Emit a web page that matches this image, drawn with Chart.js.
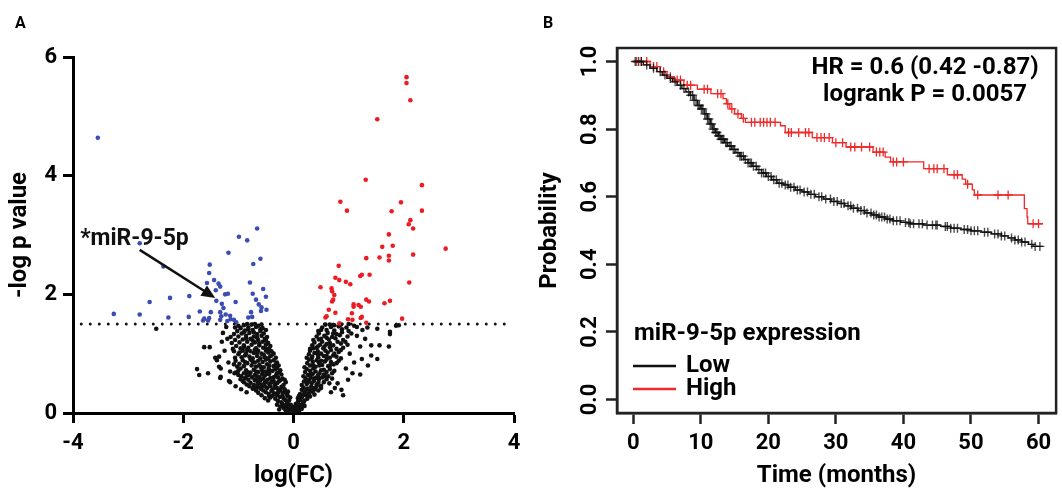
<!DOCTYPE html>
<html>
<head>
<meta charset="utf-8">
<script src="https://cdn.jsdelivr.net/npm/chart.js@4.4.1/dist/chart.umd.min.js"></script>
<style>
  html, body { margin: 0; padding: 0; background: #fff; }
  #wrap { position: relative; width: 1062px; height: 490px; font-family: Roboto, sans-serif; }
  canvas { position: absolute; top: 0; }
  #volcano { left: 0; }
  #survival { left: 530px; }
  .panel { position: absolute; font-weight: bold; font-size: 16px; line-height: 1; }
</style>
</head>
<body>
<div id="wrap">
  <canvas id="volcano" width="530" height="490"></canvas>
  <canvas id="survival" width="532" height="490"></canvas>
  <div class="panel" style="left:15px; top:15px;">A</div>
  <div class="panel" style="left:543px; top:15px;">B</div>
</div>
<script>
// ---- panel A: volcano plot, [log(FC), -log p] ----
const upRegulated = [
  [2.05,5.66],[2.05,5.56],[2.12,5.27],[1.52,4.95],[1.31,3.93],[2.33,3.84],[0.85,3.56],[0.97,3.41],
  [1.95,3.55],[1.78,3.40],[2.33,3.41],[2.12,3.25],[2.09,3.18],[2.17,3.11],[1.73,3.01],[1.61,2.80],
  [1.80,2.82],[2.76,2.77],[1.32,2.61],[1.56,2.62],[1.73,2.65],[1.73,2.57],[2.17,2.67],[0.82,2.48],
  [0.76,2.28],[0.83,2.24],[0.95,2.21],[1.03,2.17],[1.21,2.31],[1.24,2.33],[1.38,2.33],[2.10,2.20],
  [0.49,2.12],[0.69,2.10],[0.70,2.05],[0.74,1.99],[0.72,1.91],[0.70,1.88],[1.09,1.83],[1.09,1.79],
  [1.32,1.91],[1.37,1.88],[1.18,1.82],[1.22,1.79],[1.65,1.85],[1.75,1.89],[0.64,1.74],[0.76,1.69],
  [1.06,1.68],[0.58,1.61],[0.60,1.63],[0.83,1.51],[0.99,1.58],[1.07,1.57],[1.22,1.60],[1.24,1.62],
  [1.32,1.52],[1.97,1.59]
];
const downRegulated = [
  [-3.55,4.64],[-0.99,2.97],[-0.84,2.91],[-0.66,3.11],[-2.79,2.86],[-1.18,2.70],[-0.60,2.60],[-0.73,2.51],
  [-1.52,2.50],[-2.36,2.47],[-1.53,2.36],[-1.44,2.24],[-1.57,2.19],[-1.36,2.18],[-0.79,2.20],[-1.33,2.13],
  [-1.41,2.07],[-0.55,2.09],[-1.24,2.00],[-1.19,2.01],[-0.74,2.01],[-0.68,1.91],[-0.50,1.96],[-2.24,1.94],
  [-1.89,1.97],[-2.61,1.87],[-1.40,1.89],[-1.05,1.87],[-1.30,1.84],[-0.63,1.83],[-1.27,1.77],[-0.58,1.78],
  [-0.59,1.72],[-0.49,1.74],[-0.77,1.70],[-3.26,1.67],[-2.79,1.66],[-1.70,1.71],[-1.50,1.70],[-2.27,1.61],
  [-1.90,1.62],[-1.62,1.59],[-1.64,1.56],[-1.53,1.60],[-1.55,1.56],[-1.33,1.70],[-1.31,1.63],[-1.33,1.57],
  [-1.23,1.66],[-1.15,1.64],[-1.14,1.58],[-1.08,1.57],[-1.04,1.53],[-0.82,1.61],[-0.75,1.62],[-1.20,1.55]
];
const notSignificant = [
  [-0.02,0.01],[0.01,0.02],[-0.04,0.03],[0.03,0.04],[-0.06,0.05],[0.05,0.06],[-0.08,0.04],[0.07,0.03],
  [-0.10,0.08],[0.09,0.09],[-0.03,0.07],[0.02,0.08],[-0.12,0.11],[0.11,0.12],[-0.07,0.10],[0.06,0.11],
  [-0.15,0.13],[0.13,0.14],[-0.18,0.09],[0.15,0.07],[-0.05,0.14],[0.04,0.15],[-0.20,0.15],[0.17,0.16],
  [-0.14,0.04],[-0.09,0.02],[-0.16,0.07],[-0.24,0.11],[-0.30,0.14],[-0.11,0.16],[-0.26,0.06],[0.10,0.04],
  [0.14,0.10],[0.08,0.15],[0.20,0.12],[-0.01,0.05],[0.00,0.10],
  [-0.22,0.18],[-0.28,0.20],[-0.12,0.19],[-0.08,0.21],[-0.33,0.24],[-0.18,0.25],[-0.25,0.27],[-0.10,0.28],
  [-0.38,0.29],[-0.15,0.22],[-0.42,0.26],[-0.30,0.30],[-0.06,0.26],[0.08,0.19],[0.12,0.22],[0.20,0.21],
  [0.15,0.26],[0.25,0.24],[0.10,0.29],[0.30,0.28],[0.22,0.30],[0.18,0.18],
  [-0.46,0.21],[-0.52,0.25],[-0.58,0.30],[-0.64,0.34],[-0.68,0.38],[-0.74,0.41],[-0.44,0.28],[-0.20,0.29],
  [-0.14,0.35],[-0.24,0.39],[-0.42,0.45],[-0.30,0.42],[-0.58,0.44],[-0.80,0.45],[0.30,0.38],[0.36,0.42],
  [0.42,0.45],[0.50,0.42],[0.26,0.29],[0.16,0.30],[0.08,0.25],
  [-0.45,0.32],[-0.50,0.35],[-0.35,0.33],[-0.20,0.34],[-0.12,0.31],[-0.55,0.38],[-0.40,0.37],[-0.27,0.38],
  [-0.16,0.40],[-0.60,0.41],[-0.48,0.42],[-0.33,0.43],[-0.22,0.44],[-0.10,0.36],[-0.65,0.44],[-0.38,0.40],
  [-0.28,0.34],[-0.52,0.45],[-0.70,0.43],
  [0.12,0.32],[0.20,0.35],[0.28,0.33],[0.35,0.36],[0.15,0.39],[0.25,0.41],[0.40,0.40],[0.32,0.44],
  [0.18,0.43],[0.45,0.38],[0.38,0.31],[0.22,0.37],
  [-0.72,0.47],[-0.58,0.48],[-0.44,0.49],[-0.30,0.50],[-0.18,0.47],[-0.78,0.51],[-0.64,0.52],[-0.50,0.53],
  [-0.36,0.54],[-0.24,0.55],[-0.14,0.52],[-0.82,0.56],[-0.68,0.57],[-0.55,0.58],[-0.42,0.59],[-0.28,0.60],
  [-0.20,0.58],[-0.88,0.59],[-0.75,0.60],[-0.60,0.55],[-0.47,0.56],[-0.34,0.47],[-0.92,0.54],
  [-0.85,0.48],[-0.90,0.52],[-0.96,0.57],[-1.00,0.64],[-1.05,0.68],[-0.65,0.49],[-0.52,0.51],[-0.40,0.52],
  [-0.27,0.53],[-0.16,0.56],[-0.70,0.55],[-0.36,0.60],[-0.62,0.60],[-0.80,0.64],[-0.48,0.66],[-0.30,0.67],
  [-0.56,0.70],[-0.44,0.72],[-0.84,0.69],[-0.68,0.70],[-0.30,0.76],
  [0.15,0.47],[0.24,0.49],[0.33,0.50],[0.42,0.48],[0.50,0.46],[0.19,0.53],[0.28,0.55],[0.37,0.54],
  [0.46,0.56],[0.55,0.52],[0.22,0.58],[0.31,0.60],[0.40,0.59],[0.52,0.60],[0.60,0.57],
  [0.65,0.50],[0.70,0.58],[0.58,0.62],[0.36,0.58],[0.26,0.52],[0.45,0.51],[0.74,0.71],[0.55,0.73],
  [0.32,0.66],[0.45,0.60],
  [-0.95,0.62],[-0.84,0.63],[-0.70,0.64],[-0.57,0.65],[-0.44,0.66],[-0.32,0.63],[-0.22,0.65],[-0.90,0.67],
  [-0.78,0.68],[-0.64,0.69],[-0.50,0.70],[-0.38,0.71],[-0.26,0.69],[-1.00,0.71],[-0.86,0.72],[-0.72,0.73],
  [-0.58,0.74],[-0.45,0.75],[-0.33,0.74],[-0.24,0.72],[-0.96,0.75],[-0.66,0.62],[-0.52,0.63],
  [0.18,0.62],[0.26,0.64],[0.35,0.66],[0.44,0.63],[0.55,0.65],[0.63,0.62],[0.21,0.69],[0.30,0.71],
  [0.40,0.70],[0.50,0.72],[0.60,0.69],[0.70,0.67],[0.24,0.74],[0.36,0.75],[0.47,0.67],[0.66,0.74],
  [-1.02,0.78],[-0.90,0.79],[-0.76,0.80],[-0.62,0.81],[-0.48,0.82],[-0.36,0.79],[-0.27,0.80],[-0.98,0.83],
  [-0.84,0.84],[-0.70,0.85],[-0.56,0.86],[-0.42,0.87],[-0.30,0.85],[-1.05,0.88],[-0.92,0.89],[-0.78,0.90],
  [-0.64,0.88],[-0.50,0.90],[-0.36,0.89],[-0.54,0.77],[-0.68,0.78],
  [-1.08,0.82],[-0.60,0.78],[-0.44,0.80],[-0.32,0.82],[-0.74,0.86],[-0.88,0.86],[-0.46,0.92],[-0.60,0.92],
  [-0.74,0.92],[-0.88,0.97],[-0.54,0.98],[-0.42,0.96],[-0.66,1.02],[-0.98,1.02],[-0.70,1.07],[-0.84,1.06],
  [-0.50,1.08],
  [0.20,0.77],[0.30,0.80],[0.40,0.78],[0.52,0.81],[0.63,0.79],[0.73,0.82],[0.25,0.84],[0.35,0.86],
  [0.46,0.85],[0.57,0.87],[0.68,0.86],[0.78,0.84],[0.28,0.90],[0.42,0.89],[0.60,0.90],
  [0.36,0.80],[0.47,0.80],[0.66,0.80],[0.82,0.88],[0.50,0.88],[0.33,0.92],[0.60,0.96],[0.72,0.97],
  [0.44,0.98],[0.86,1.06],[0.68,1.06],[0.36,1.09],
  [-1.06,0.93],[-0.94,0.94],[-0.80,0.95],[-0.66,0.96],[-0.52,0.94],[-0.40,0.97],[-0.32,0.93],[-1.00,0.99],
  [-0.86,1.00],[-0.72,1.01],[-0.58,1.00],[-0.46,1.02],[-0.36,1.00],[-1.08,1.04],[-0.92,1.05],[-0.78,1.04],
  [-0.64,1.05],[-0.50,1.05],[-0.40,1.04],
  [0.24,0.93],[0.34,0.95],[0.45,0.94],[0.55,0.96],[0.66,0.93],[0.78,0.95],[0.86,0.92],[0.28,0.99],
  [0.38,1.01],[0.50,1.00],[0.62,1.02],[0.74,1.00],[0.30,1.05],[0.44,1.04],[0.58,1.05],[0.82,1.03],
  [-1.10,1.08],[-0.96,1.09],[-0.82,1.10],[-0.68,1.09],[-0.55,1.10],[-0.44,1.08],[-1.04,1.13],[-0.90,1.14],
  [-0.76,1.15],[-0.62,1.14],[-0.50,1.15],[-0.42,1.13],[-1.12,1.18],[-0.98,1.19],[-0.84,1.20],[-0.70,1.19],
  [-0.56,1.20],[-0.46,1.18],
  [-0.90,1.11],[-0.62,1.17],[-0.74,1.22],[-0.86,1.26],[-0.66,1.27],[-0.50,1.22],[-0.90,1.36],[-0.72,1.36],
  [-0.60,1.41],[-0.82,1.41],[-0.70,1.50],[-1.06,1.44],[-0.84,1.50],
  [0.30,1.08],[0.42,1.10],[0.54,1.09],[0.66,1.11],[0.78,1.08],[0.90,1.10],[0.34,1.14],[0.48,1.15],
  [0.60,1.16],[0.72,1.14],[0.86,1.17],[0.38,1.19],[0.52,1.20],[0.98,1.15],
  [0.44,1.12],[0.56,1.12],[0.66,1.18],[0.80,1.20],[0.94,1.20],[0.60,1.27],[0.46,1.24],[0.72,1.34],
  [0.88,1.36],[0.50,1.40],[0.66,1.49],[0.86,1.49],[1.00,1.50],
  [-1.06,1.23],[-0.92,1.24],[-0.78,1.25],[-0.64,1.23],[-0.52,1.25],[-1.14,1.28],[-1.00,1.29],[-0.86,1.30],
  [-0.72,1.29],[-0.58,1.30],[-0.48,1.28],[-1.08,1.33],[-0.94,1.34],[-0.80,1.35],[-0.66,1.33],[-0.54,1.34],
  [0.36,1.23],[0.50,1.25],[0.64,1.24],[0.76,1.26],[0.90,1.23],[0.42,1.29],[0.56,1.30],[0.70,1.28],
  [0.84,1.31],[0.98,1.29],[0.46,1.34],[0.62,1.35],[0.78,1.33],[1.05,1.34],
  [-1.02,1.38],[-0.88,1.39],[-0.74,1.40],[-0.60,1.38],[-0.50,1.40],[-0.96,1.43],[-0.82,1.44],[-0.68,1.45],
  [-0.56,1.43],[-0.90,1.48],[-0.76,1.49],[-0.64,1.47],[-1.00,1.47],[-0.58,1.49],
  [0.45,1.38],[0.60,1.40],[0.74,1.39],[0.88,1.41],[1.00,1.38],[0.52,1.44],[0.68,1.45],[0.82,1.46],
  [0.96,1.44],[0.58,1.49],[0.74,1.48],[1.10,1.47],
  [-2.49,1.42],[-1.62,1.11],[-1.52,1.11],[-1.75,0.74],[-1.71,0.64],[-1.55,0.67],[-1.33,0.59],[-1.15,0.52],
  [-1.42,0.93],[-1.35,0.78],[-1.32,0.75],[-1.32,0.61],[-1.15,0.70],[-1.17,0.54],[-1.07,0.67],[-1.35,0.95],
  [-1.39,0.89],[-1.25,1.05],[-1.20,1.25],[-1.28,1.35],[-1.22,1.45],[-1.30,1.20],[-1.18,0.85],[-1.05,0.45],
  [-0.95,0.40],[-0.85,0.35],
  [1.21,1.12],[1.41,1.14],[1.56,1.14],[1.73,1.12],[1.24,0.91],[1.41,0.97],[1.52,0.91],[1.35,0.80],
  [1.21,0.65],[1.75,1.37],[1.75,1.33],[1.52,1.42],[1.34,1.44],[1.86,1.47],[1.91,1.48],[0.90,0.30],
  [0.99,0.56],[1.07,0.67],[0.87,0.39],[1.15,1.30],[1.25,1.40],[1.10,0.85],[0.95,0.75],[1.02,1.00],
  [0.80,0.50],[0.75,0.42],[0.68,0.35],[1.15,1.45],[1.30,1.25]
];
const pThreshold = 1.5;
const thresholdSpan = [-3.85, 3.87];
const mirLabel = '*miR-9-5p';
const mirLabelAt = [-3.87, 2.92];
const arrowFrom = [-2.79, 2.75];
const arrowTo = [-1.42, 1.94];

// ---- panel B: Kaplan-Meier, miR-9-5p expression ----
const lowTimes = [0, 1.5, 2.5, 3.5, 4.3, 5.0, 5.8, 6.5, 7.2, 7.8, 8.4, 9.0, 9.5, 10.0, 10.5, 11.0, 11.4, 11.8,
  12.2, 12.6, 13.0, 13.5, 14.0, 14.6, 15.2, 15.8, 16.4, 17.0, 17.6, 18.3, 19.0, 19.7, 20.5, 21.3, 22.2, 23.0,
  24.0, 25.0, 26.0, 27.0, 28.2, 29.3, 30.3, 31.3, 32.3, 33.3, 34.3, 35.3, 36.3, 37.3, 38.4, 39.6, 41.0, 43.0,
  45.5, 47.0, 48.5, 50.0, 51.5, 53.0, 54.5, 55.5, 56.5, 57.5, 58.5, 59.2, 60.6];
const lowSurv = [1.0, 0.99, 0.98, 0.97, 0.96, 0.95, 0.94, 0.93, 0.92, 0.91, 0.90, 0.885, 0.87, 0.86, 0.845, 0.83, 0.815, 0.80,
  0.79, 0.78, 0.77, 0.76, 0.75, 0.74, 0.73, 0.72, 0.71, 0.70, 0.69, 0.68, 0.67, 0.66, 0.65, 0.64, 0.635, 0.628,
  0.62, 0.614, 0.607, 0.60, 0.593, 0.586, 0.58, 0.573, 0.566, 0.559, 0.552, 0.546, 0.54, 0.534, 0.529, 0.524, 0.52, 0.516,
  0.512, 0.507, 0.503, 0.499, 0.495, 0.49, 0.484, 0.478, 0.472, 0.466, 0.459, 0.453, 0.453];
const lowCensor = [0.3, 0.8, 1.2, 2, 3, 4, 4.7, 5.5, 6.2, 7, 7.5, 8.2, 8.5, 8.8, 9.0, 9.3, 9.6, 9.8, 10.1, 10.3, 10.6,
  10.8, 11.0, 11.2, 11.4, 11.6, 11.8, 12, 12.2, 12.4, 12.6, 12.8, 13.0, 13.2, 13.4, 13.7, 13.9, 14.3, 14.5, 14.8, 15.0,
  15.5, 15.8, 16, 16.3, 16.6, 17.0, 17.3, 17.5, 17.8, 18.2, 18.6, 19.0, 19.3, 19.6, 20, 20.4, 20.8, 21.2, 21.6, 22.0,
  22.5, 22.9, 23.3, 23.8, 24.3, 24.7, 25.3, 25.8, 26.3, 26.8, 27.5, 27.9, 28.5, 29.2, 29.7, 30.2, 30.8, 31.2, 31.8,
  32.2, 32.6, 33.2, 33.7, 34.2, 34.6, 35.2, 35.6, 36, 36.4, 36.8, 37.2, 37.6, 38, 38.5, 39, 39.5, 40.3, 40.8, 41,
  41.5, 42.3, 42.8, 43.5, 44.3, 44.8, 45, 46.2, 46.5, 47, 47.5, 48, 49, 49.5, 50, 50.5, 51, 52, 52.5, 53.5, 54, 54.5,
  55, 56, 56.5, 57, 57.5, 58, 59, 59.5, 60.2];
const highTimes = [0, 2.5, 4.0, 5.0, 6.0, 7.5, 9.5, 11.5, 13.3, 13.8, 14.3, 15.0, 16.0, 16.6, 21.8, 22.5, 26.5, 29.5,
  31.5, 35.5, 37.3, 38.1, 43.0, 46.5, 48.7, 49.2, 50.2, 50.5, 57.9, 58.3, 58.4, 60.6];
const highSurv = [1.0, 0.985, 0.97, 0.955, 0.945, 0.93, 0.918, 0.905, 0.89, 0.875, 0.86, 0.845, 0.832, 0.82, 0.81, 0.79, 0.775, 0.76,
  0.747, 0.732, 0.717, 0.703, 0.683, 0.665, 0.652, 0.637, 0.62, 0.605, 0.565, 0.54, 0.52, 0.52];
const highCensor = [0.5, 1.2, 2, 3, 3.5, 4.5, 5.5, 6.5, 7, 8, 8.5, 10.5, 11, 12.5, 13, 14, 14.6, 15.5, 16.3, 17.5, 18,
  18.8, 19.3, 19.8, 20.3, 21, 23, 23.4, 24.5, 25.5, 26, 27.2, 27.8, 28.3, 29, 30, 31, 32.2, 32.8, 33.8, 35, 36, 36.5,
  37, 38.5, 39, 40, 43.8, 44.5, 45, 46, 47.5, 48, 49.5, 51, 54, 55.5, 59.2, 60];
const hrText = ['HR = 0.6 (0.42 -0.87)', 'logrank P = 0.0057'];
const legendTitle = 'miR-9-5p expression';
const groupNames = ['Low', 'High'];

Chart.defaults.font.family = 'Roboto';
Chart.defaults.font.weight = 'bold';
Chart.defaults.color = '#000';

const toPts = arr => arr.map(p => ({ x: p[0], y: p[1] }));

// survival value in force at time t (step lookup for censor ticks)
function survAt(times, surv, t) {
  let s = surv[0];
  for (let i = 0; i < times.length; i++) {
    if (times[i] <= t) s = surv[i];
  }
  return s;
}

const volcanoNotes = {
  id: 'volcanoNotes',
  afterDatasetsDraw(chart) {
    const { ctx, scales: { x, y } } = chart;
    const x0 = x.getPixelForValue(arrowFrom[0]), y0 = y.getPixelForValue(arrowFrom[1]);
    const x1 = x.getPixelForValue(arrowTo[0]), y1 = y.getPixelForValue(arrowTo[1]);
    const ang = Math.atan2(y1 - y0, x1 - x0);
    const head = 15;
    ctx.save();
    ctx.strokeStyle = '#111';
    ctx.fillStyle = '#111';
    ctx.lineWidth = 2.5;
    ctx.beginPath();
    ctx.moveTo(x0, y0);
    ctx.lineTo(x1 - head * 0.8 * Math.cos(ang), y1 - head * 0.8 * Math.sin(ang));
    ctx.stroke();
    ctx.beginPath();
    ctx.moveTo(x1, y1);
    ctx.lineTo(x1 - head * Math.cos(ang - 0.42), y1 - head * Math.sin(ang - 0.42));
    ctx.lineTo(x1 - head * Math.cos(ang + 0.42), y1 - head * Math.sin(ang + 0.42));
    ctx.closePath();
    ctx.fill();
    ctx.font = 'bold 23px Roboto';
    ctx.textBaseline = 'middle';
    ctx.textAlign = 'left';
    ctx.fillText(mirLabel, x.getPixelForValue(mirLabelAt[0]), y.getPixelForValue(mirLabelAt[1]));
    ctx.restore();
  }
};

new Chart(document.getElementById('volcano'), {
  type: 'scatter',
  data: {
    datasets: [
      {
        data: [{ x: thresholdSpan[0], y: pThreshold }, { x: thresholdSpan[1], y: pThreshold }],
        showLine: true,
        borderColor: '#111',
        borderWidth: 3,
        borderDash: [0, 9],
        borderCapStyle: 'round',
        pointRadius: 0,
        order: 0,
      },
      { data: toPts(notSignificant), backgroundColor: '#111', pointRadius: 2.3, borderWidth: 0, order: 3 },
      { data: toPts(downRegulated), backgroundColor: '#3a4db3', pointRadius: 2.3, borderWidth: 0, order: 2 },
      { data: toPts(upRegulated), backgroundColor: '#ec1c24', pointRadius: 2.3, borderWidth: 0, order: 2 },
    ],
  },
  options: {
    responsive: false,
    animation: false,
    layout: { padding: { left: 0, top: 57, right: 16, bottom: 0 } },
    plugins: { legend: { display: false }, tooltip: { enabled: false } },
    scales: {
      x: {
        min: -4,
        max: 4,
        ticks: { stepSize: 2, font: { size: 22 }, padding: 7 },
        grid: { drawOnChartArea: false, tickLength: 10, tickWidth: 3, tickColor: '#000' },
        border: { color: '#000', width: 3 },
        title: { display: true, text: 'log(FC)', font: { size: 24 }, padding: { bottom: 0 } },
        afterFit: s => { s.height = 77; },
      },
      y: {
        min: 0,
        max: 6,
        ticks: { stepSize: 2, font: { size: 22 }, padding: 6 },
        grid: { drawOnChartArea: false, tickLength: 10, tickWidth: 3, tickColor: '#000' },
        border: { color: '#000', width: 3 },
        title: { display: true, text: '-log p value', font: { size: 24 }, padding: { top: 6 } },
        afterFit: s => { s.width = 73; },
      },
    },
  },
  plugins: [volcanoNotes],
});

const survivalNotes = {
  id: 'survivalNotes',
  afterDraw(chart) {
    const { ctx, chartArea: a, scales: { y } } = chart;
    ctx.save();
    ctx.strokeStyle = '#222';
    ctx.lineWidth = 2.5;
    ctx.strokeRect(a.left, a.top, a.right - a.left, a.bottom - a.top);

    // y tick labels, parallel to the axis
    ctx.fillStyle = '#000';
    ctx.font = 'bold 22px Roboto';
    ctx.textAlign = 'center';
    ctx.textBaseline = 'middle';
    y.ticks.forEach(t => {
      ctx.save();
      ctx.translate(a.left - 27, y.getPixelForValue(t.value));
      ctx.rotate(-Math.PI / 2);
      ctx.fillText(t.value.toFixed(1), 0, 0);
      ctx.restore();
    });

    ctx.font = 'bold 24px Roboto';
    ctx.fillText(hrText[0], a.right - 131, a.top + 20);
    ctx.fillText(hrText[1], a.right - 131, a.top + 47);

    // legend
    ctx.textAlign = 'left';
    ctx.fillText(legendTitle, a.left + 17, 334);
    ctx.lineWidth = 2.5;
    [['#111', 366], ['#ee2a2a', 389]].forEach(([c, ly], i) => {
      ctx.strokeStyle = c;
      ctx.beginPath();
      ctx.moveTo(a.left + 16, ly);
      ctx.lineTo(a.left + 59, ly);
      ctx.stroke();
      ctx.fillText(groupNames[i], a.left + 69, ly);
    });
    ctx.restore();
  }
};

const stepLine = (times, surv, color) => ({
  data: times.map((t, i) => ({ x: t, y: surv[i] })),
  showLine: true,
  stepped: true,
  borderColor: color,
  borderWidth: 1.3,
  pointRadius: 0,
});
const censorMarks = (times, surv, censor, color, w) => ({
  data: censor.map(t => ({ x: t, y: survAt(times, surv, t) })),
  pointStyle: 'cross',
  pointRadius: 4.5,
  borderColor: color,
  borderWidth: w,
});

new Chart(document.getElementById('survival'), {
  type: 'scatter',
  data: {
    datasets: [
      stepLine(lowTimes, lowSurv, '#111'),
      censorMarks(lowTimes, lowSurv, lowCensor, 'rgba(0,0,0,0.7)', 1.4),
      stepLine(highTimes, highSurv, '#ee2a2a'),
      censorMarks(highTimes, highSurv, highCensor, '#ee2a2a', 1.3),
    ],
  },
  options: {
    responsive: false,
    animation: false,
    layout: { padding: { left: 0, top: 48, right: 3, bottom: 0 } },
    plugins: { legend: { display: false }, tooltip: { enabled: false } },
    scales: {
      x: {
        min: -2.4,
        max: 62.6,
        ticks: { stepSize: 10, includeBounds: false, font: { size: 22 }, padding: 6 },
        grid: { drawOnChartArea: false, tickLength: 11, tickWidth: 2.5, tickColor: '#222' },
        border: { color: '#222', width: 2.5 },
        title: { display: true, text: 'Time (months)', font: { size: 24 }, padding: { bottom: 0 } },
        afterFit: s => { s.height = 77; },
      },
      y: {
        min: -0.04,
        max: 1.04,
        ticks: { stepSize: 0.2, includeBounds: false, color: 'rgba(0,0,0,0)', font: { size: 22 } },
        grid: { drawOnChartArea: false, tickLength: 11, tickWidth: 2.5, tickColor: '#222' },
        border: { color: '#222', width: 2.5 },
        title: { display: true, text: 'Probability', font: { size: 24 }, padding: { top: 6 } },
        afterFit: s => { s.width = 87; },
      },
    },
  },
  plugins: [survivalNotes],
});
</script>
</body>
</html>
